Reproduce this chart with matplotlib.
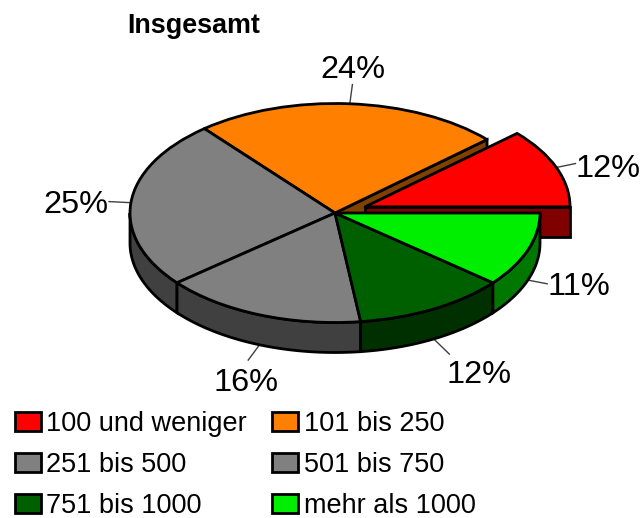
import numpy as np
import matplotlib
matplotlib.use("Agg")
import matplotlib.pyplot as plt

plt.rcParams["font.family"] = ["Liberation Sans", "DejaVu Sans"]

categories = ["100 und weniger", "101 bis 250", "251 bis 500", "501 bis 750", "751 bis 1000", "mehr als 1000"]
values = [11.7, 24.3, 25, 16, 12, 11]
colors = ["#ff0000", "#ff8000", "#808080", "#808080", "#006000", "#00ee00"]
wall_colors = ["#800000", "#804000", "#404040", "#404040", "#003000", "#007700"]
title = "Insgesamt"

# layout in pixels of the 641x518 picture
W, H = 641, 518
cx, cy, rx, ry = 335, 213, 205, 109.5
depth = 30 / ry
explode = [0.157, 0, 0, 0, 0, 0]
leader_len = [0.1, 0.176, 0.107, 0.15, 0.158, 0.1]
label_px = [(608, 169), (353, 70), (76, 205), (246, 383), (479, 375), (579, 287)]


def px(x, y):
    return (x - cx) / rx, (cy - y) / ry


fig = plt.figure(figsize=(W / 100, H / 100), dpi=100)
ax = fig.add_axes([0, 0, 1, 1])

wedges, _ = ax.pie(values, explode=explode, colors=colors, startangle=0, counterclock=True, radius=1,
                   wedgeprops={"edgecolor": "black", "linewidth": 2, "joinstyle": "round"})
ax.set_aspect("auto")
ax.set_xlim(-cx / rx, (W - cx) / rx)
ax.set_ylim(-(H - cy) / ry, cy / ry)
ax.axis("off")

edges = np.concatenate([[0], np.cumsum(values)]) * 3.6
order = {0: 4, 1: 2, 2: 6, 3: 6, 4: 6, 5: 6}

for i, w in enumerate(wedges):
    w.set_zorder(order[i])
    a0, a1 = edges[i], edges[i + 1]
    mid = np.radians((a0 + a1) / 2)
    ox, oy = explode[i] * np.cos(mid), explode[i] * np.sin(mid)

    # outer wall, only the part facing the viewer
    lo, hi = max(a0, 180), min(a1, 360)
    if lo < hi:
        t = np.radians(np.linspace(lo, hi, 80))
        x = ox + np.cos(t)
        y = oy + np.sin(t)
        ax.fill(np.r_[x, x[::-1]], np.r_[y, y[::-1] - depth], facecolor=wall_colors[i],
                edgecolor="black", linewidth=2, zorder=5)

# cut faces seen next to the pulled out slice
rad0 = np.radians(edges[1])
ax.fill([0, np.cos(rad0), np.cos(rad0), 0], [0, np.sin(rad0), np.sin(rad0) - depth, -depth],
        facecolor=wall_colors[1], edgecolor="black", linewidth=2, zorder=1)
mid0 = np.radians(edges[1] / 2)
ox0, oy0 = explode[0] * np.cos(mid0), explode[0] * np.sin(mid0)
ax.fill([ox0, ox0 + 1, ox0 + 1, ox0], [oy0, oy0, oy0 - depth, oy0 - depth],
        facecolor=wall_colors[0], edgecolor="black", linewidth=2, zorder=3)

# leader lines and percent labels
for i, v in enumerate(values):
    t = np.radians((edges[i] + edges[i + 1]) / 2)
    sx = explode[i] * np.cos(t) + np.cos(t)
    sy = explode[i] * np.sin(t) + np.sin(t)
    if np.sin(t) < 0:
        sy -= depth
    ex = sx + leader_len[i] * np.cos(t)
    ey = sy + leader_len[i] * np.sin(t)
    ax.plot([sx, ex], [sy, ey], color="#404040", linewidth=1, zorder=1)
    lx, ly = px(*label_px[i])
    ax.text(lx, ly, f"{v:.0f}%", fontsize=23.4, ha="center", va="center", color="black", zorder=8)

tx, ty = px(127, 26)
ax.text(tx, ty, title, fontsize=19.4, fontweight="bold", ha="left", va="center")

# legend fills by column, the picture reads by row
idx = [0, 2, 4, 1, 3, 5]
leg = ax.legend([wedges[i] for i in idx], [categories[i] for i in idx], ncols=2, frameon=False,
                fontsize=19.5, loc="lower left", bbox_to_anchor=(15 / W, -1 / H),
                bbox_transform=fig.transFigure, borderpad=0, borderaxespad=0,
                handlelength=0.96, handleheight=0.7, handletextpad=0.2, columnspacing=0.92,
                labelspacing=0.55)
leg.set_zorder(9)

fig.savefig("out.png", dpi=100)
